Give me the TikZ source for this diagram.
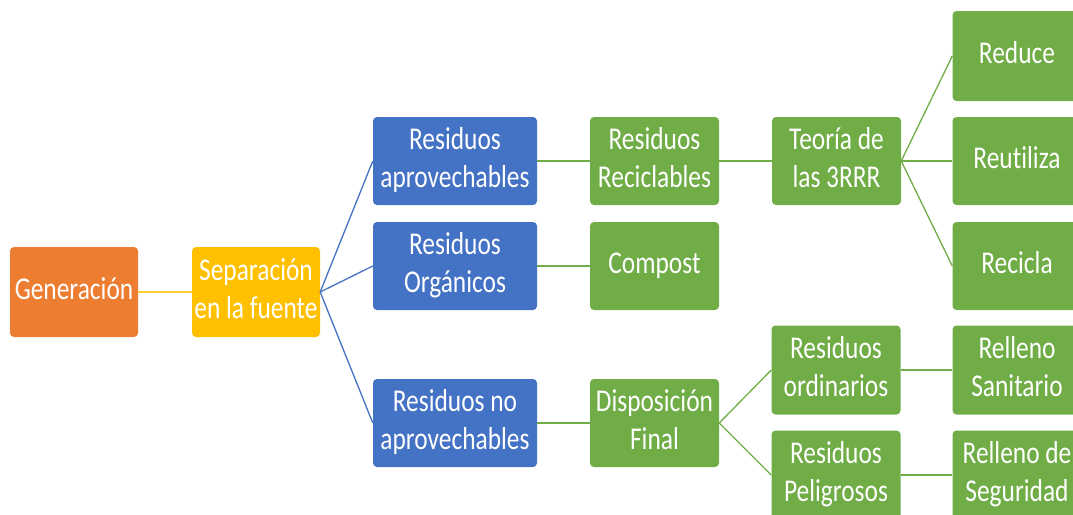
\documentclass[tikz,border=0pt]{standalone}
\usepackage{fontspec}
\setmainfont[Ligatures={NoCommon}]{Carlito}
\usepackage{graphicx}
\definecolor{cOrange}{HTML}{ED7D31}
\definecolor{cGold}{HTML}{FFC000}
\definecolor{cBlue}{HTML}{4472C4}
\definecolor{cGreen}{HTML}{70AD47}
\newcommand{\boxtxt}[1]{\raisebox{-1.5pt}{\scalebox{1}[1.25]{\begin{tabular}{@{}c@{}}#1\end{tabular}}}}
\tikzset{
  box/.style={rectangle, rounded corners=4pt, text=white, inner sep=0pt,
    minimum height=88pt, minimum width=129pt,
    font=\fontsize{25.4}{30.4}\selectfont},
  orangebox/.style={box, fill=cOrange, minimum height=90pt, minimum width=128pt},
  goldbox/.style={box, fill=cGold, minimum height=90pt, minimum width=128pt},
  bluebox/.style={box, fill=cBlue, minimum width=164pt},
  greenbox/.style={box, fill=cGreen},
  link/.style={line width=1.3pt},
}
\begin{document}
\begin{tikzpicture}[x=1pt,y=-1pt]
\useasboundingbox (0,0) rectangle (1073,514);
\begin{scope}
\clip (0,0) rectangle (1073,514);
\node[orangebox] (gen) at (74,292) {\boxtxt{Generación}};
\node[goldbox] (sep) at (256,292) {\boxtxt{Separación\\en la fuente}};
\node[bluebox] (apr) at (455,161) {\boxtxt{Residuos\\aprovechables}};
\node[bluebox] (org) at (455,266) {\boxtxt{Residuos\\Orgánicos}};
\node[bluebox] (noapr) at (455,423) {\boxtxt{Residuos no\\aprovechables}};
\node[greenbox] (recl) at (654.5,161) {\boxtxt{Residuos\\Reciclables}};
\node[greenbox] (comp) at (654.5,266) {\boxtxt{Compost}};
\node[greenbox] (disp) at (654.5,423) {\boxtxt{Disposición\\Final}};
\node[greenbox] (teo) at (836.5,161) {\boxtxt{Teoría de\\las 3RRR}};
\node[greenbox, minimum height=90pt] (red) at (1017,56) {\boxtxt{Reduce}};
\node[greenbox] (reu) at (1017,161) {\boxtxt{Reutiliza}};
\node[greenbox] (rec) at (1017,266) {\boxtxt{Recicla}};
\node[greenbox, minimum height=89pt] (ord) at (836,370) {\boxtxt{Residuos\\ordinarios}};
\node[greenbox, minimum height=89pt] (pel) at (836,475) {\boxtxt{Residuos\\Peligrosos}};
\node[greenbox, minimum height=89pt] (rsan) at (1017,370) {\boxtxt{Relleno\\Sanitario}};
\node[greenbox, minimum height=89pt] (rseg) at (1017,475) {\boxtxt{Relleno de\\Seguridad}};
\end{scope}
\draw[link, cGold!80] (gen.east) -- (sep.west);
\draw[link, cBlue] (sep.east) -- (apr.west);
\draw[link, cBlue] (sep.east) -- (org.west);
\draw[link, cBlue] (sep.east) -- (noapr.west);
\draw[link, cGreen] (apr.east) -- (recl.west);
\draw[link, cGreen] (org.east) -- (comp.west);
\draw[link, cGreen] (noapr.east) -- (disp.west);
\draw[link, cGreen] (recl.east) -- (teo.west);
\draw[link, cGreen] (teo.east) -- (red.west);
\draw[link, cGreen] (teo.east) -- (reu.west);
\draw[link, cGreen] (teo.east) -- (rec.west);
\draw[link, cGreen] (disp.east) -- (ord.west);
\draw[link, cGreen] (disp.east) -- (pel.west);
\draw[link, cGreen] (ord.east) -- (rsan.west);
\draw[link, cGreen] (pel.east) -- (rseg.west);
\end{tikzpicture}
\end{document}
